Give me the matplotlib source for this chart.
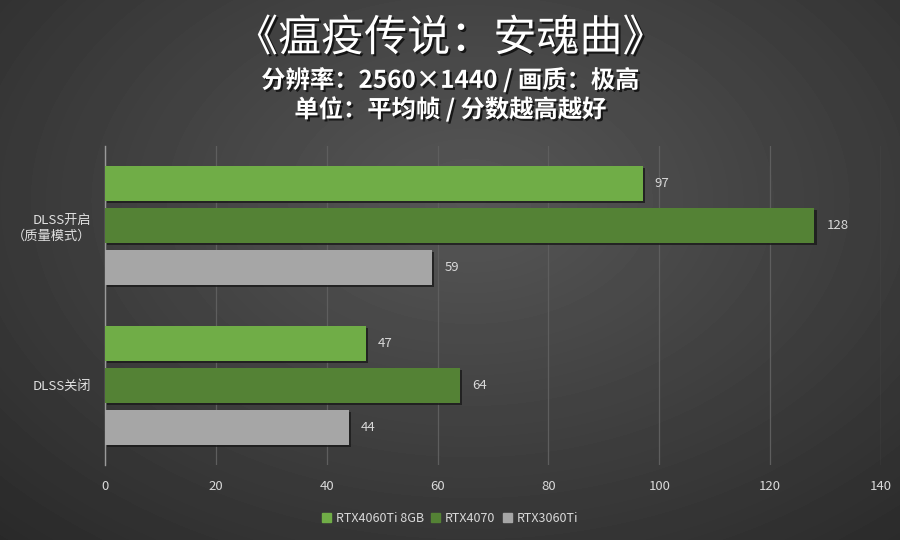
import matplotlib.pyplot as plt
import matplotlib.patheffects as pe
import numpy as np

plt.rcParams['font.family'] = ['Noto Sans CJK SC', 'DejaVu Sans']

categories = ['DLSS开启\n（质量模式）', 'DLSS关闭']
series = ['RTX4060Ti 8GB', 'RTX4070', 'RTX3060Ti']
values = {
    'RTX4060Ti 8GB': [97, 47],
    'RTX4070': [128, 64],
    'RTX3060Ti': [59, 44],
}
colors = ['#70ad47', '#548235', '#a6a6a6']
xticks = [0, 20, 40, 60, 80, 100, 120, 140]

fig = plt.figure(figsize=(9, 5.4), dpi=100)

# radial gradient background
bg = fig.add_axes([0, 0, 1, 1])
yy, xx = np.mgrid[0:540, 0:900]
r = np.sqrt(((xx - 470) / 620.0) ** 2 + ((yy - 200) / 420.0) ** 2)
shade = np.clip(0.34 - 0.16 * r, 0.16, 0.34)
bg.imshow(shade, cmap='gray', vmin=0, vmax=1, aspect='auto', extent=[0, 1, 0, 1])
bg.axis('off')

ax = fig.add_axes([105 / 900, 1 - 465 / 540, 776 / 900, 319 / 540])
ax.set_facecolor('none')

centers = np.array([0, 3.8])
offsets = [-1, 0, 1]
for i, name in enumerate(series):
    ypos = centers + offsets[i]
    ax.barh(ypos, values[name], height=0.83, color=colors[i], zorder=3,
            path_effects=[pe.SimplePatchShadow(offset=(1.5, -1.5), shadow_rgbFace='#1a1a1a', alpha=0.8),
                          pe.Normal()])
    for y, v in zip(ypos, values[name]):
        ax.text(v + 2.2, y, str(v), va='center', ha='left', color='#d9d9d9', fontsize=9.5, zorder=4)

ax.set_xlim(0, 140)
ax.set_ylim(5.7, -1.9)
ax.set_xticks(xticks)
ax.set_xticklabels([str(t) for t in xticks], color='#d9d9d9', fontsize=9.5)
ax.tick_params(axis='x', length=0, pad=11)
ax.set_yticks(centers)
ax.set_yticklabels(categories, color='#e0e0e0', fontsize=9.5, linespacing=1.25)
ax.tick_params(axis='y', length=0, pad=10)
ax.grid(axis='x', color='#5e5e5e', linewidth=0.9, zorder=0)
for s in ['top', 'right', 'bottom']:
    ax.spines[s].set_visible(False)
ax.spines['left'].set_color('#9a9a9a')
ax.spines['left'].set_linewidth(1.0)

shadow_fx = [pe.withSimplePatchShadow(offset=(1.5, -1.5), shadow_rgbFace='#111111', alpha=0.9)]

fig.text(0.5, 0.928, '《瘟疫传说：安魂曲》', ha='center', va='center', color='white',
         fontsize=31, fontweight='medium', path_effects=shadow_fx)
fig.text(0.5, 0.852, '分辨率：2560×1440 / 画质：极高', ha='center', va='center', color='white',
         fontsize=17.5, fontweight='bold', path_effects=shadow_fx)
fig.text(0.5, 0.798, '单位：平均帧 / 分数越高越好', ha='center', va='center', color='white',
         fontsize=17.5, fontweight='bold', path_effects=shadow_fx)

handles = [plt.Rectangle((0, 0), 1, 1, color=c) for c in colors]
fig.legend(handles, series, loc='center', bbox_to_anchor=(0.5, 0.04), ncol=3, frameon=False,
           fontsize=9, labelcolor='#d9d9d9', handlelength=0.7, handleheight=0.7,
           handletextpad=0.4, columnspacing=0.6)

fig.savefig('out.png', dpi=100)
